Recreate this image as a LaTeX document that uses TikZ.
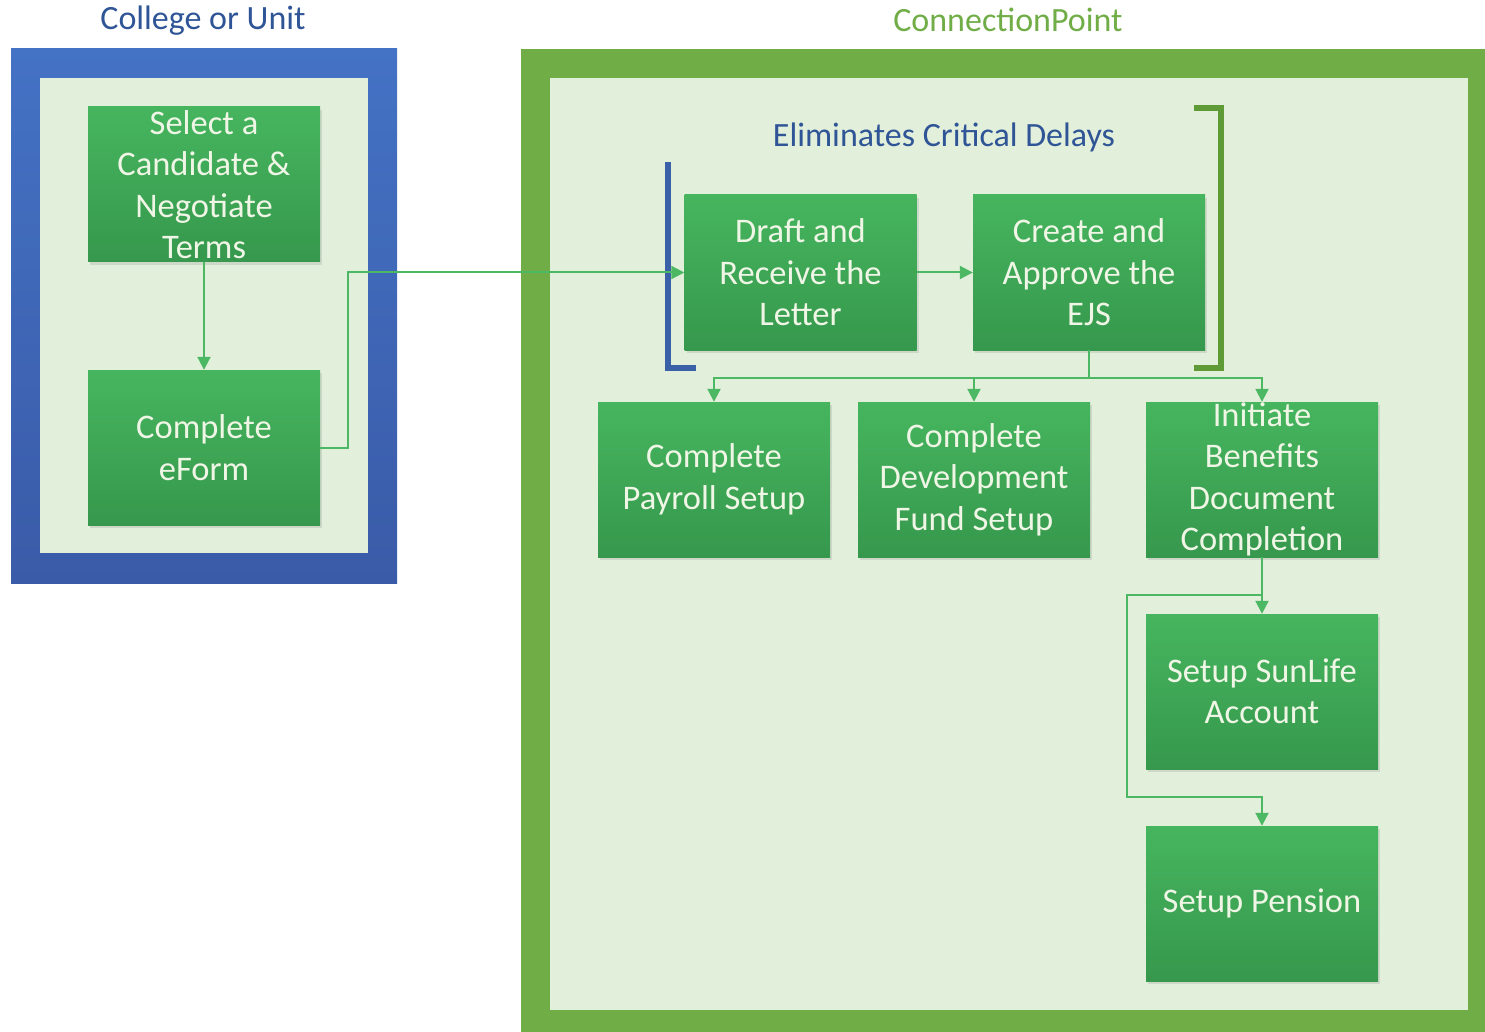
\documentclass[tikz,border=0pt]{standalone}
\usepackage{fontspec}
\setmainfont{Carlito}
\usepackage{xcolor}
\definecolor{unitBlue}   {HTML}{4472C4}
\definecolor{unitBlueDk} {HTML}{3A5BA8}
\definecolor{cpGreen}    {HTML}{70AD47}
\definecolor{panelBack}  {HTML}{E2EFDA}
\definecolor{boxTop}     {HTML}{46B55E}
\definecolor{boxBot}     {HTML}{36984D}
\definecolor{boxText}    {HTML}{F0F6E6}
\definecolor{linkGreen}  {HTML}{4CB863}
\definecolor{titleBlue}  {HTML}{2F5597}
\definecolor{brkGreen}   {HTML}{5E9A35}
\usetikzlibrary{arrows.meta, positioning, calc, shadows}
\tikzset{
    taskbox/.style={rectangle, top color=boxTop, bottom color=boxBot,
                    minimum width=232pt, minimum height=155pt, inner sep=0pt,
                    drop shadow={shadow xshift=2pt, shadow yshift=-3pt, opacity=0.2}},
    boxtext/.style={align=center, text=boxText, inner sep=0pt,
                    font=\fontsize{34.5}{41.5}\selectfont},
    title/.style={font=\fontsize{34}{41}\selectfont},
    conn/.style={-{Triangle[length=13pt, width=13pt]}, line width=2pt, linkGreen},
    link/.style={-, line width=2pt, linkGreen},
    bracket/.style={line width=6pt, line cap=rect},
}
\begin{document}
\begin{tikzpicture}[x=1pt, y=-1pt]
    \useasboundingbox (0,0) rectangle (1485,1032);
    % frames
    \fill[top color=unitBlue, bottom color=unitBlueDk] (11,49) rectangle (397,583);
    \fill[panelBack] (40,78) rectangle (368,553);
    \fill[cpGreen] (521,49) rectangle (1485,1032);
    \fill[panelBack] (550,78) rectangle (1468,1010);

    \node[title, text=titleBlue] (unit) at (203,21) {College or Unit};
    \node[title, text=cpGreen] (cp) at (1008,20) {ConnectionPoint};
    \node[title, text=titleBlue] (delay) at (944,137) {Eliminates Critical Delays};

    \draw[bracket, unitBlue!85!black] (668,165) |- (693,368);
    \draw[bracket, brkGreen] (1197,108) -| (1221,368) -- (1197,368);

    \node[taskbox, label={[boxtext]center:Select a\\Candidate \&\\Negotiate\\Terms}] (select) at (204,184.5) {};
    \node[taskbox, label={[boxtext]center:Complete\\eForm}] (eform) at (204,447.5) {};
    \node[taskbox, label={[boxtext]center:Draft and\\Receive the\\Letter}] (draft) at (800.5,272.5) {};
    \node[taskbox, label={[boxtext]center:Create and\\Approve the\\EJS}] (ejs) at (1089,272.5) {};
    \node[taskbox, label={[boxtext]center:Complete\\Payroll Setup}] (payroll) at (714,479.5) {};
    \node[taskbox, label={[boxtext]center:Complete\\Development\\Fund Setup}] (devfund) at (974,479.5) {};
    \node[taskbox, label={[boxtext]center:Initiate\\Benefits\\Document\\Completion}] (benefits) at (1262,479.5) {};
    \node[taskbox, label={[boxtext]center:Setup SunLife\\Account}] (sunlife) at (1262,691.5) {};
    \node[taskbox, label={[boxtext]center:Setup Pension}] (pension) at (1262,903.5) {};

    \coordinate (split) at (1089,378);
    \coordinate (fork) at (1262,595);
    \coordinate (loop) at (1127,797);

    \draw[conn] (select) -- (eform);
    \draw[conn] (eform.east) -- ++(28,0) |- (draft.west);
    \draw[conn] (draft) -- (ejs);
    \draw[link] (ejs.south) -- (split);
    \draw[conn] (split) -| (payroll.north);
    \draw[conn] (split) -| (devfund.north);
    \draw[conn] (split) -| (benefits.north);
    \draw[conn] (benefits) -- (sunlife);
    \draw[conn] (fork) -| (loop) -| (pension.north);
\end{tikzpicture}
\end{document}
